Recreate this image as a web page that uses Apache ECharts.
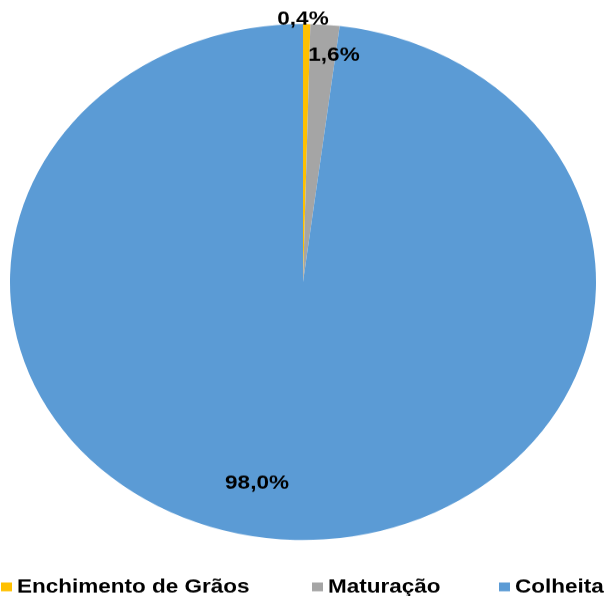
<!DOCTYPE html>
<html>
<head>
<meta charset="utf-8">
<script src="https://cdn.jsdelivr.net/npm/echarts@6/dist/echarts.min.js"></script>
<style>
html,body{margin:0;padding:0;width:607px;height:596px;overflow:hidden;background:#fff;}
#wrap{width:607px;height:596px;overflow:hidden;position:relative;}
#chart{position:absolute;left:0;top:0;width:607px;height:677px;transform:scaleY(0.8805);transform-origin:0 0;}
</style>
</head>
<body>
<div id="wrap"><div id="chart"></div></div>
<script>
const categories = ['Enchimento de Grãos', 'Maturação', 'Colheita'];
const values = [0.4, 1.6, 98.0];
const colors = ['#FFC000', '#A5A5A5', '#5B9BD5'];
const labelSpots = [[303, 21.6], [334, 62.5], [257, 548.6]];

const FONT = "'Liberation Sans', Arial, sans-serif";
const chart = echarts.init(document.getElementById('chart'), null, {renderer: 'canvas'});

const legendLefts = [-4, 307, 494];
const option = {
  animation: false,
  color: colors,
  legend: categories.map((c, i) => ({
    data: [c],
    left: legendLefts[i],
    top: 650,
    orient: 'horizontal',
    itemWidth: 11,
    itemHeight: 10,
    icon: 'rect',
    textStyle: {fontFamily: FONT, fontWeight: 'bold', fontSize: 22.5, color: '#000'}
  })),
  series: [{
    type: 'pie',
    center: [303, 320.3],
    radius: [0, 293],
    startAngle: 90,
    clockwise: true,
    avoidLabelOverlap: false,
    silent: true,
    data: categories.map((c, i) => ({name: c, value: values[i], itemStyle: {color: colors[i]}})),
    itemStyle: {borderWidth: 0},
    label: {
      show: true,
      position: 'inside',
      fontFamily: FONT,
      fontWeight: 'bold',
      fontSize: 22.5,
      color: '#000',
      formatter: p => p.value.toFixed(1).replace('.', ',') + '%'
    },
    labelLine: {show: false},
    labelLayout: p => ({
      x: labelSpots[p.dataIndex][0],
      y: labelSpots[p.dataIndex][1],
      align: 'center',
      verticalAlign: 'middle'
    })
  }]
};
chart.setOption(option);
</script>
</body>
</html>
